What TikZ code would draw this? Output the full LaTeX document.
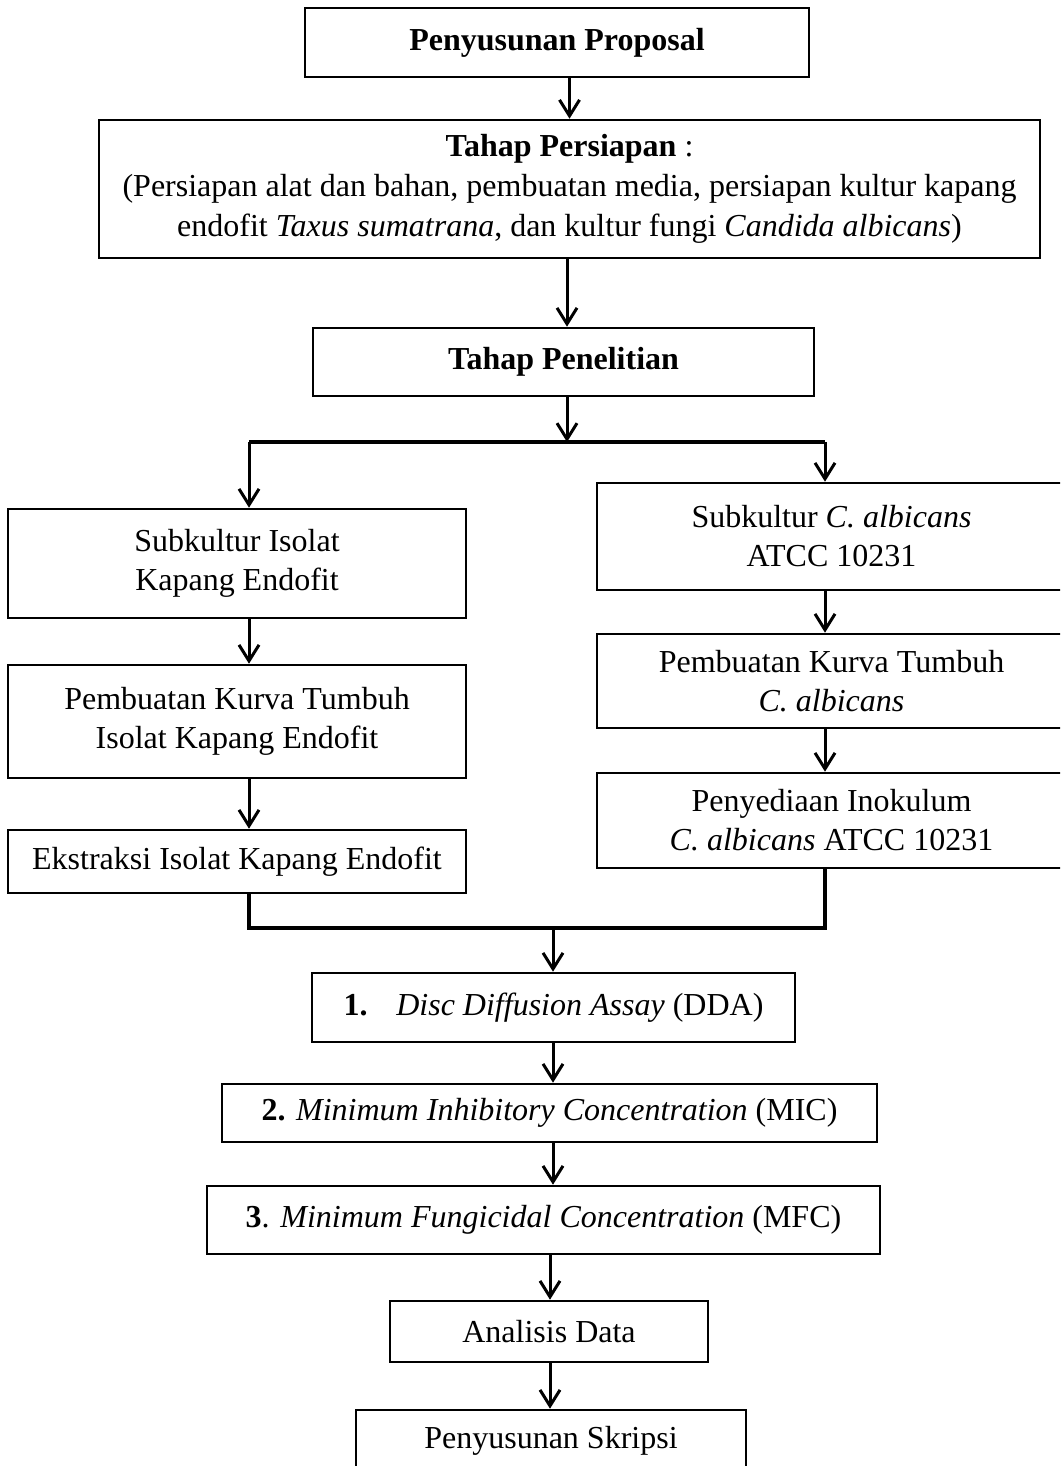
\documentclass[tikz,border=0pt]{standalone}
\usepackage{fontspec}
\setmainfont{Liberation Serif}
\usetikzlibrary{arrows.meta}
\begin{document}
\begin{tikzpicture}[x=1pt,y=-1pt,
  box/.style={draw, line width=2.6pt, align=center, inner sep=0pt,
    font=\fontsize{32}{39}\selectfont},
  arr/.style={line width=3pt, -{Straight Barb[length=16pt,width=20pt,line width=3pt]}},
  joinline/.style={line width=4pt}]
\useasboundingbox (0,0) rectangle (1060,1466);
\clip (0,0) rectangle (1060,1466);

\node[box, minimum width=504pt, minimum height=69pt] (prop) at (557,42.5) {\textbf{Penyusunan Proposal}};
\node[box, minimum width=941pt, minimum height=138pt, font=\fontsize{32}{40}\selectfont] (pers) at (569.5,189)
  {\textbf{Tahap Persiapan} :\\(Persiapan alat dan bahan, pembuatan media, persiapan kultur kapang\\endofit \textit{Taxus sumatrana}, dan kultur fungi \textit{Candida albicans})};
\node[box, minimum width=501pt, minimum height=68pt] (pen) at (563.5,362) {\textbf{Tahap Penelitian}};

\node[box, minimum width=458pt, minimum height=109pt] (L1) at (237,563.5) {Subkultur Isolat\\Kapang Endofit};
\node[box, minimum width=458pt, minimum height=113pt] (L2) at (237,721.5) {Pembuatan Kurva Tumbuh\\Isolat Kapang Endofit};
\node[box, minimum width=458pt, minimum height=63pt] (L3) at (237,861.5) {Ekstraksi Isolat Kapang Endofit};

\node[box, minimum width=469pt, minimum height=107pt] (R1) at (831.5,536.5) {Subkultur \textit{C. albicans}\\ATCC 10231};
\node[box, minimum width=469pt, minimum height=94pt] (R2) at (831.5,681) {Pembuatan Kurva Tumbuh\\\textit{C. albicans}};
\node[box, minimum width=469pt, minimum height=95pt] (R3) at (831.5,820.5) {Penyediaan Inokulum\\\textit{C. albicans} ATCC 10231};

\node[box, minimum width=483pt, minimum height=69pt] (dda) at (553.5,1007.5) {\textbf{1.}\hspace{0.9em}\textit{Disc Diffusion Assay} (DDA)};
\node[box, minimum width=655pt, minimum height=58pt] (mic) at (549.5,1113) {\textbf{2.} \textit{Minimum Inhibitory Concentration} (MIC)};
\node[box, minimum width=673pt, minimum height=68pt] (mfc) at (543.5,1220) {\textbf{3}. \textit{Minimum Fungicidal Concentration} (MFC)};
\node[box, minimum width=318pt, minimum height=61pt] (ana) at (549,1331.5) {Analisis Data};
\node[box, minimum width=390pt, minimum height=62pt] (skr) at (551,1441) {Penyusunan Skripsi};

% connectors
\draw[arr] (pers.north |- prop.south) -- (pers.north);
\draw[arr] ([xshift=3.5pt]pen.north |- pers.south) -- ([xshift=3.5pt]pen.north);
\coordinate (split) at (567,442);
\coordinate (sl) at (249,442);
\coordinate (sr) at (825,442);
\draw[arr] ([xshift=3.5pt]pen.south) -- (split);
\draw[joinline] (sl) -- (sr);
\draw[arr] (sl) -- (sl |- L1.north);
\draw[arr] (sr) -- (sr |- R1.north);
\draw[arr] (sl |- L1.south) -- (sl |- L2.north);
\draw[arr] (sl |- L2.south) -- (sl |- L3.north);
\draw[arr] (sr |- R1.south) -- (sr |- R2.north);
\draw[arr] (sr |- R2.south) -- (sr |- R3.north);
\coordinate (ml) at (249,928);
\coordinate (mr) at (825,928);
\coordinate (mm) at (553,928);
\draw[joinline] (ml |- L3.south) -- (ml) -- (mr) -- (mr |- R3.south);
\draw[arr] (mm) -- (mm |- dda.north);
\draw[arr] (mm |- dda.south) -- (mm |- mic.north);
\draw[arr] (mm |- mic.south) -- (mm |- mfc.north);
\draw[arr] ([xshift=1pt]ana.north |- mfc.south) -- ([xshift=1pt]ana.north);
\draw[arr] ([xshift=1pt]ana.south) -- ([xshift=1pt]ana.south |- skr.north);
\end{tikzpicture}
\end{document}
